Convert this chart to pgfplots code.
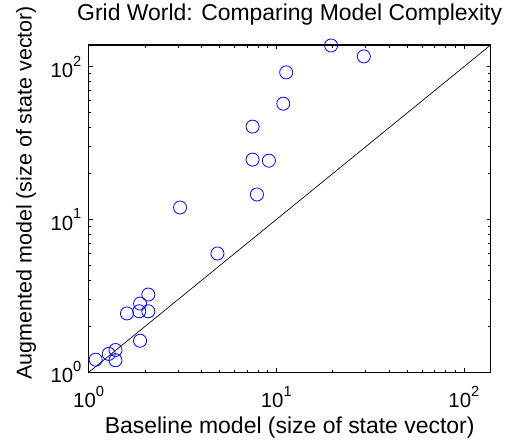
\documentclass[border=0pt]{standalone}
\usepackage{pgfplots}
\pgfplotsset{compat=1.18}
\usepackage{fontspec}
\setmainfont{Liberation Sans}

\definecolor{markblue}{RGB}{0,0,255}

% exponent label in the text font
\newcommand{\tenpow}[1]{10\raisebox{0.55em}{\fontsize{11}{12}\selectfont #1}}

\begin{document}
\begin{tikzpicture}[x=1pt,y=1pt]
  \path[use as bounding box] (0,0) rectangle (385.5,330.75);
  \begin{axis}[
    at={(66.5pt,51.5pt)}, anchor=south west,
    scale only axis,
    width=301.5pt, height=245.5pt,
    xmode=log, ymode=log,
    xmin=1, xmax=139, ymin=1, ymax=139,
    xtick={1,10,100}, ytick={1,10,100},
    xticklabels={\tenpow{0},\tenpow{1},\tenpow{2}},
    yticklabels={\tenpow{0},\tenpow{1},\tenpow{2}},
    tick align=inside,
    xtick pos=both, ytick pos=both,
    xticklabel pos=lower, yticklabel pos=left,
    major tick length=3pt, minor tick length=2pt,
    every tick/.style={black, line width=0.5pt},
    axis line style={black, line width=0.8pt},
    tick label style={font=\fontsize{15.3}{16}\selectfont},
    xticklabel style={anchor=base, inner sep=0pt, yshift=-26.25pt},
    yticklabel style={anchor=east, inner sep=0pt, xshift=-5.25pt},
    title={Grid World: Comparing Model Complexity},
    title style={at={(0.5,1)}, anchor=base, yshift=12.5pt, inner sep=0pt,
                 font=\fontsize{17.2}{18}\selectfont},
    xlabel={Baseline model (size of state vector)},
    xlabel style={at={(0.5,0)}, anchor=base, yshift=-45.7pt, inner sep=0pt,
                  font=\fontsize{17.2}{18}\selectfont},
    ylabel={Augmented model (size of state vector)},
    ylabel style={at={(rel axis cs:-0.156,0.549)}, anchor=center, rotate=0,
                  inner sep=0pt, font=\fontsize{16.1}{17}\selectfont},
    clip=false,
  ]
    % reference line: equal size in both models
    \addplot[black, line width=0.5pt] coordinates {(1,1) (139,139)};

    % one circle per grid-world problem
    \addplot[only marks, mark=o, mark size=4.9pt, markblue, line width=0.6pt]
      coordinates {
        (19.6,138) (29.3,117) (11.3,92) (10.9,57.4)
        (7.48,40.6) (7.48,24.7) (9.14,24.3) (7.89,14.6)
        (3.07,12.0) (4.86,6.0)
        (2.08,3.23) (1.88,2.82) (1.60,2.43) (1.86,2.51) (2.08,2.51)
        (1.88,1.61) (1.39,1.40) (1.28,1.32) (1.39,1.20) (1.09,1.21)
      };
  \end{axis}
\end{tikzpicture}
\end{document}
